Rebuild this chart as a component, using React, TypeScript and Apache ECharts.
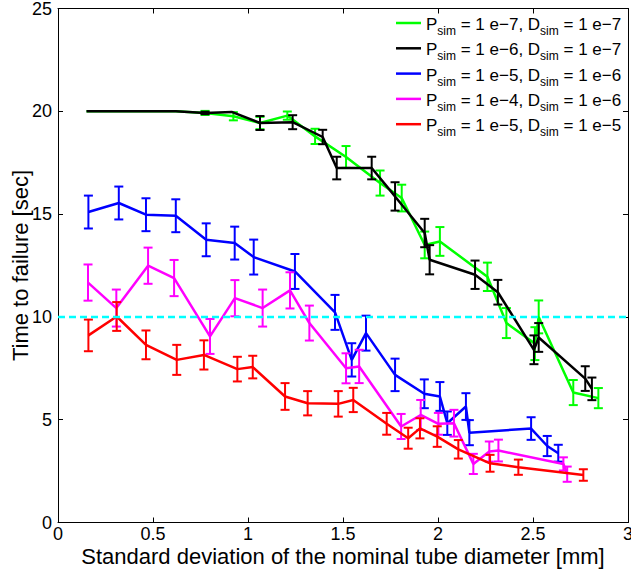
import React, { useEffect, useRef } from "react";
import * as echarts from "echarts";

const FONT = "'Liberation Sans', Arial, Helvetica, sans-serif";

// Legend parameters
const legendP = ["1 e\u22127", "1 e\u22126", "1 e\u22125", "1 e\u22124", "1 e\u22125"];
const legendD = ["1 e\u22127", "1 e\u22127", "1 e\u22126", "1 e\u22126", "1 e\u22125"];
const colors = ["#00ff00", "#000000", "#0000ff", "#ff00ff", "#ff0000"];

// Series 1: green
const greenX = [0.15, 0.3, 0.46, 0.62, 0.774, 0.923, 1.063, 1.207, 1.353, 1.516, 1.695, 1.809, 1.93, 2.01, 2.26, 2.36, 2.51, 2.53, 2.712, 2.844];
const greenY = [20, 20, 20, 20, 19.92, 19.76, 19.43, 19.79, 18.78, 17.78, 16.51, 15.78, 13.5, 13.67, 11.95, 9.7, 8.7, 10.0, 6.32, 6.05];
const greenErr = [0, 0, 0, 0, 0.1, 0.2, 0.3, 0.2, 0.37, 0.53, 0.61, 0.65, 0.65, 0.7, 0.69, 0.73, 0.8, 0.8, 0.61, 0.49];

// Series 2: black
const blackX = [0.15, 0.3, 0.46, 0.62, 0.774, 0.914, 1.063, 1.235, 1.393, 1.467, 1.651, 1.774, 1.93, 1.956, 2.195, 2.315, 2.505, 2.53, 2.775, 2.81];
const blackY = [20, 20, 20, 20, 19.92, 19.97, 19.43, 19.47, 18.75, 17.24, 17.24, 15.86, 14.08, 12.78, 12.05, 11.2, 8.4, 9.0, 7.0, 6.5];
const blackErr = [0, 0, 0, 0, 0.06, 0, 0.34, 0.34, 0.35, 0.55, 0.55, 0.69, 0.69, 0.71, 0.69, 0.6, 0.7, 0.7, 0.6, 0.55];

// Series 3: blue
const blueX = [0.16, 0.32, 0.463, 0.62, 0.78, 0.93, 1.03, 1.247, 1.458, 1.546, 1.621, 1.774, 1.928, 2.01, 2.049, 2.147, 2.165, 2.49, 2.575, 2.633];
const blueY = [15.1, 15.54, 14.97, 14.92, 13.75, 13.59, 12.91, 12.21, 10.22, 7.91, 9.21, 7.18, 6.26, 6.13, 4.83, 5.64, 4.37, 4.57, 3.72, 3.37];
const blueErr = [0.8, 0.8, 0.8, 0.8, 0.8, 0.8, 0.85, 0.85, 0.85, 0.81, 0.85, 0.79, 0.7, 0.7, 0.57, 0.65, 0.61, 0.55, 0.49, 0.41];

// Series 4: magenta
const magentaX = [0.158, 0.307, 0.474, 0.611, 0.8, 0.931, 1.077, 1.221, 1.323, 1.516, 1.585, 1.806, 1.909, 2.002, 2.084, 2.186, 2.27, 2.318, 2.66, 2.68];
const magentaY = [11.67, 10.43, 12.49, 11.89, 9.05, 10.91, 10.43, 11.29, 9.7, 7.5, 7.59, 4.67, 5.23, 4.8, 4.83, 2.85, 3.45, 3.5, 2.85, 2.35];
const magentaErr = [0.88, 0.9, 0.88, 0.88, 0.85, 0.88, 0.9, 0.88, 0.85, 0.73, 0.81, 0.61, 0.73, 0.53, 0.65, 0.49, 0.49, 0.53, 0.32, 0.37];

// Series 5: red
const redX = [0.16, 0.309, 0.463, 0.625, 0.768, 0.944, 1.025, 1.195, 1.314, 1.475, 1.554, 1.73, 1.843, 1.905, 1.996, 2.107, 2.274, 2.423, 2.765];
const redY = [9.1, 10.02, 8.64, 7.91, 8.15, 7.46, 7.56, 6.13, 5.8, 5.77, 5.96, 4.8, 4.1, 4.58, 4.18, 3.56, 2.88, 2.69, 2.31];
const redErr = [0.77, 0.7, 0.7, 0.73, 0.71, 0.6, 0.55, 0.65, 0.59, 0.62, 0.59, 0.53, 0.51, 0.49, 0.5, 0.45, 0.41, 0.37, 0.28];

const threshold = 10;

const seriesData = [
  { x: greenX, y: greenY, e: greenErr },
  { x: blackX, y: blackY, e: blackErr },
  { x: blueX, y: blueY, e: blueErr },
  { x: magentaX, y: magentaY, e: magentaErr },
  { x: redX, y: redY, e: redErr },
];

const names = legendP.map((p, i) => `Psim = ${p}, Dsim = ${legendD[i]}`);

function makeErrRender(color: string) {
  return (params: any, api: any) => {
    const x = api.value(0);
    const y = api.value(1);
    const e = api.value(2);
    if (!e) return { type: "group", children: [] };
    const top = api.coord([x, y + e]);
    const bot = api.coord([x, y - e]);
    const w = 4.5;
    const style = { stroke: color, lineWidth: 2, fill: "none" };
    return {
      type: "group",
      children: [
        { type: "line", shape: { x1: top[0], y1: top[1], x2: bot[0], y2: bot[1] }, style },
        { type: "line", shape: { x1: top[0] - w, y1: top[1], x2: top[0] + w, y2: top[1] }, style },
        { type: "line", shape: { x1: bot[0] - w, y1: bot[1], x2: bot[0] + w, y2: bot[1] }, style },
      ],
    };
  };
}

export default function App() {
  const ref = useRef<HTMLDivElement>(null);
  useEffect(() => {
    if (!ref.current) return;
    const chart = echarts.init(ref.current, null, { renderer: "svg" });
    const series: any[] = [];
    seriesData.forEach((s, i) => {
      series.push({
        type: "line",
        name: names[i],
        data: s.x.map((x, k) => [x, s.y[k]]),
        symbol: "none",
        showSymbol: false,
        lineStyle: { color: colors[i], width: 2.5 },
        itemStyle: { color: colors[i] },
        z: 2 + i * 2,
        silent: true,
      });
      series.push({
        type: "custom",
        name: "err" + i,
        data: s.x.map((x, k) => [x, s.y[k], s.e[k]]),
        encode: { x: 0, y: 1 },
        renderItem: makeErrRender(colors[i]),
        z: 3 + i * 2,
        silent: true,
      });
    });
    series.push({
      type: "line",
      name: "threshold",
      data: [[0, threshold], [3, threshold]],
      symbol: "none",
      lineStyle: { color: "#00ffff", width: 2.5, type: [7, 4] },
      z: 20,
      silent: true,
    });

    const axisCommon = {
      axisLine: { show: true, onZero: false, lineStyle: { color: "#000", width: 1 } },
      axisTick: { show: true, inside: true, length: 5, lineStyle: { color: "#000", width: 1 } },
      splitLine: { show: false },
    };

    chart.setOption({
      animation: false,
      textStyle: { fontFamily: FONT },
      grid: { left: 58, right: 3, top: 8.5, bottom: 48.5, containLabel: false, outerBoundsMode: "none" },
      legend: {
        show: true,
        data: names.map((n) => ({ name: n, icon: "rect" })),
        orient: "vertical",
        left: 396,
        top: 16,
        padding: 0,
        itemGap: 3.3,
        itemWidth: 25,
        itemHeight: 2.5,
        selectedMode: false,
        formatter: (name: string) => {
          const i = names.indexOf(name);
          return `{m|P}{s|sim}{m| = ${legendP[i]}, D}{s|sim}{m| = ${legendD[i]}}`;
        },
        textStyle: {
          fontFamily: FONT,
          color: "#000",
          rich: {
            m: { fontFamily: FONT, fontSize: 17, lineHeight: 12, verticalAlign: "top", color: "#000" },
            s: { fontFamily: FONT, fontSize: 12, lineHeight: 14, padding: [9, 0, 1, 0], verticalAlign: "top", color: "#000" },
          },
        },
      },
      xAxis: [
        {
          type: "value",
          min: 0,
          max: 3,
          interval: 0.5,
          position: "bottom",
          name: "Standard deviation of the nominal tube diameter [mm]",
          nameLocation: "middle",
          nameGap: 22.5,
          nameMoveOverlap: false,
          nameTextStyle: { fontFamily: FONT, fontSize: 22, color: "#000", lineHeight: 22 },
          axisLabel: { fontFamily: FONT, fontSize: 18, color: "#000", margin: 2, lineHeight: 18 },
          ...axisCommon,
        },
        {
          type: "value",
          min: 0,
          max: 3,
          interval: 0.5,
          position: "top",
          axisLabel: { show: false },
          ...axisCommon,
        },
      ],
      yAxis: [
        {
          type: "value",
          min: 0,
          max: 25,
          interval: 5,
          position: "left",
          name: "Time to failure [sec]",
          nameLocation: "middle",
          nameGap: 27,
          nameMoveOverlap: false,
          nameTextStyle: { fontFamily: FONT, fontSize: 22, color: "#000" },
          axisLabel: { fontFamily: FONT, fontSize: 18, color: "#000", margin: 6 },
          ...axisCommon,
        },
        {
          type: "value",
          min: 0,
          max: 25,
          interval: 5,
          position: "right",
          axisLabel: { show: false },
          ...axisCommon,
        },
      ],
      series,
    });
    return () => chart.dispose();
  }, []);
  return (
    <div
      ref={ref}
      style={{ position: "absolute", left: 0, top: 0, width: 631, height: 571, background: "#fff" }}
    />
  );
}
